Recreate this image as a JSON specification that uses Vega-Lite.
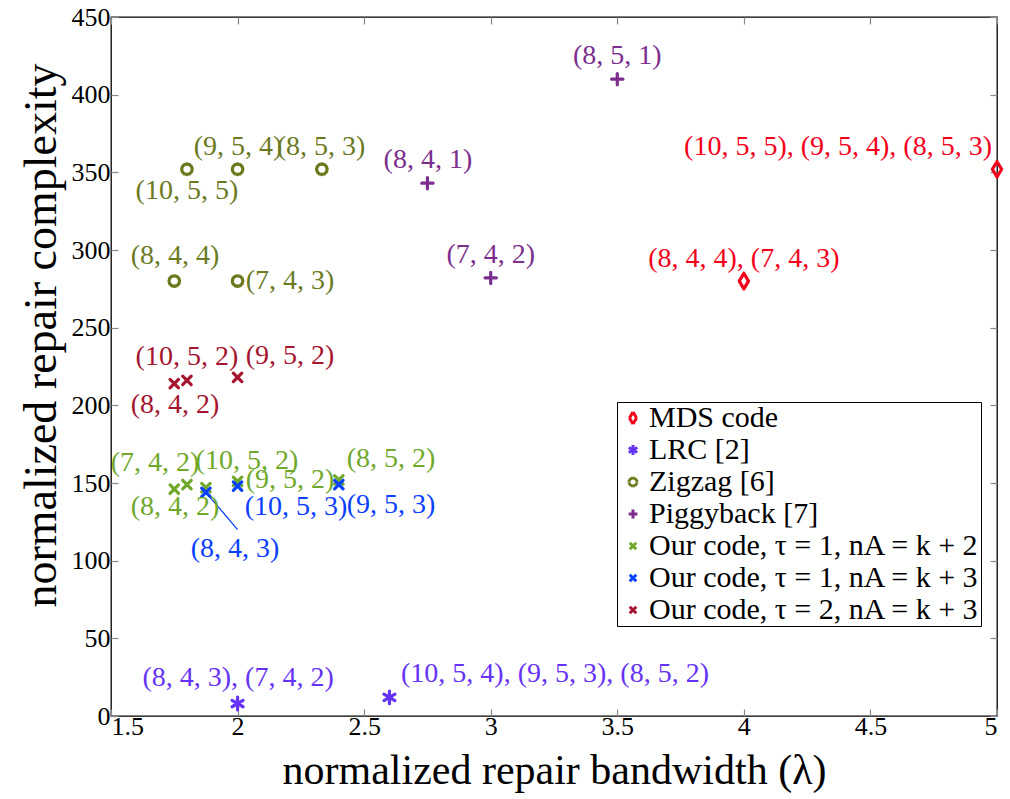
{
  "$schema": "https://vega.github.io/schema/vega-lite/v6.json",
  "autosize": {"type": "none"},
  "width": 886,
  "height": 699,
  "padding": {"left": 111, "top": 17, "right": 13, "bottom": 83},
  "background": "white",
  "config": {
    "font": "Liberation Serif",
    "view": {"stroke": "black", "strokeWidth": 1.3},
    "axis": {
      "grid": false,
      "domain": false,
      "tickColor": "#888888",
      "tickSize": -7,
      "tickWidth": 1.2,
      "labelColor": "black",
      "labelFont": "Liberation Serif",
      "labelFontSize": 26,
      "titleFont": "Liberation Serif",
      "titleFontWeight": "normal",
      "titleColor": "black"
    }
  },
  "datasets": {
    "pts": [
      {"series": "MDS code", "x": 5, "y": 352},
      {"series": "MDS code", "x": 4, "y": 280},
      {"series": "LRC [2]", "x": 2, "y": 8},
      {"series": "LRC [2]", "x": 2.6, "y": 12},
      {"series": "Zigzag [6]", "x": 1.8, "y": 352},
      {"series": "Zigzag [6]", "x": 2, "y": 352},
      {"series": "Zigzag [6]", "x": 2.333, "y": 352},
      {"series": "Zigzag [6]", "x": 1.75, "y": 280},
      {"series": "Zigzag [6]", "x": 2, "y": 280},
      {"series": "Piggyback [7]", "x": 3.5, "y": 410},
      {"series": "Piggyback [7]", "x": 2.75, "y": 343},
      {"series": "Piggyback [7]", "x": 3, "y": 282},
      {"series": "Our code, τ = 1, nA = k + 2", "x": 1.75, "y": 146},
      {"series": "Our code, τ = 1, nA = k + 2", "x": 1.8, "y": 149},
      {"series": "Our code, τ = 1, nA = k + 2", "x": 1.875, "y": 147},
      {"series": "Our code, τ = 1, nA = k + 2", "x": 2, "y": 151},
      {"series": "Our code, τ = 1, nA = k + 2", "x": 2.4, "y": 152},
      {"series": "Our code, τ = 1, nA = k + 3", "x": 1.875, "y": 144},
      {"series": "Our code, τ = 1, nA = k + 3", "x": 2, "y": 148},
      {"series": "Our code, τ = 1, nA = k + 3", "x": 2.4, "y": 149},
      {"series": "Our code, τ = 2, nA = k + 3", "x": 1.75, "y": 214},
      {"series": "Our code, τ = 2, nA = k + 3", "x": 1.8, "y": 216},
      {"series": "Our code, τ = 2, nA = k + 3", "x": 2, "y": 218}
    ],
    "labels": [
      {"series": "Piggyback [7]", "label": "(8, 5, 1)", "x": 3.5, "y": 425},
      {"series": "Piggyback [7]", "label": "(8, 4, 1)", "x": 2.752, "y": 358},
      {"series": "Piggyback [7]", "label": "(7, 4, 2)", "x": 3.0, "y": 297},
      {"series": "MDS code", "label": "(10, 5, 5), (9, 5, 4), (8, 5, 3)", "x": 4.372, "y": 366},
      {"series": "MDS code", "label": "(8, 4, 4), (7, 4, 3)", "x": 4.0, "y": 294},
      {"series": "Zigzag [6]", "label": "(9, 5, 4)", "x": 2.002, "y": 366},
      {"series": "Zigzag [6]", "label": "(8, 5, 3)", "x": 2.33, "y": 366},
      {"series": "Zigzag [6]", "label": "(10, 5, 5)", "x": 1.8, "y": 338},
      {"series": "Zigzag [6]", "label": "(8, 4, 4)", "x": 1.753, "y": 296},
      {"series": "Zigzag [6]", "label": "(7, 4, 3)", "x": 2.207, "y": 280},
      {"series": "Our code, τ = 2, nA = k + 3", "label": "(10, 5, 2)", "x": 1.8, "y": 231},
      {"series": "Our code, τ = 2, nA = k + 3", "label": "(9, 5, 2)", "x": 2.207, "y": 232},
      {"series": "Our code, τ = 2, nA = k + 3", "label": "(8, 4, 2)", "x": 1.753, "y": 200},
      {"series": "Our code, τ = 1, nA = k + 2", "label": "(7, 4, 2)", "x": 1.674, "y": 163},
      {"series": "Our code, τ = 1, nA = k + 2", "label": "(10, 5, 2)", "x": 2.037, "y": 164},
      {"series": "Our code, τ = 1, nA = k + 2", "label": "(8, 5, 2)", "x": 2.606, "y": 165.5},
      {"series": "Our code, τ = 1, nA = k + 2", "label": "(9, 5, 2)", "x": 2.207, "y": 152},
      {"series": "Our code, τ = 1, nA = k + 2", "label": "(8, 4, 2)", "x": 1.753, "y": 134.6},
      {"series": "Our code, τ = 1, nA = k + 3", "label": "(10, 5, 3)", "x": 2.231, "y": 134.6},
      {"series": "Our code, τ = 1, nA = k + 3", "label": "(9, 5, 3)", "x": 2.606, "y": 136},
      {"series": "Our code, τ = 1, nA = k + 3", "label": "(8, 4, 3)", "x": 1.99, "y": 107.5},
      {"series": "LRC [2]", "label": "(8, 4, 3), (7, 4, 2)", "x": 2.002, "y": 24.5},
      {"series": "LRC [2]", "label": "(10, 5, 4), (9, 5, 3), (8, 5, 2)", "x": 3.254, "y": 27}
    ],
    "connector": [
      {"x": 1.875, "y": 144, "x2": 2.0, "y2": 120}
    ]
  },
  "resolve": {"axis": {"x": "independent", "y": "independent"}},
  "layer": [
    {
      "data": {"name": "connector"},
      "mark": {"type": "rule", "color": "#0a40ff", "strokeWidth": 1.3},
      "encoding": {
        "x": {"field": "x", "type": "quantitative", "scale": {"domain": [1.5, 5], "nice": false, "zero": false},
          "axis": {"orient": "top", "labels": false, "title": null, "values": [1.5, 2, 2.5, 3, 3.5, 4, 4.5, 5]}},
        "y": {"field": "y", "type": "quantitative", "scale": {"domain": [0, 450], "nice": false},
          "axis": {"orient": "right", "labels": false, "title": null, "values": [0, 50, 100, 150, 200, 250, 300, 350, 400, 450]}},
        "x2": {"field": "x2"},
        "y2": {"field": "y2"}
      }
    },
    {
      "data": {"name": "pts"},
      "mark": {"type": "point", "filled": false, "strokeWidth": 3.2, "strokeCap": "round", "strokeJoin": "round", "size": 200, "opacity": 1},
      "encoding": {
        "x": {"field": "x", "type": "quantitative", "scale": {"domain": [1.5, 5], "nice": false, "zero": false},
          "axis": {"orient": "bottom", "title": "normalized repair bandwidth (λ)", "titleFontSize": 42, "values": [1.5, 2, 2.5, 3, 3.5, 4, 4.5, 5], "format": ".1~f", "labelPadding": 4, "titlePadding": 11}},
        "y": {"field": "y", "type": "quantitative", "scale": {"domain": [0, 450], "nice": false},
          "axis": {"orient": "left", "title": "normalized repair complexity", "titleFontSize": 46, "titleY": 318, "values": [0, 50, 100, 150, 200, 250, 300, 350, 400, 450], "labelPadding": 8, "titlePadding": 6}},
        "stroke": {
          "field": "series", "type": "nominal",
          "scale": {
            "domain": ["MDS code", "LRC [2]", "Zigzag [6]", "Piggyback [7]", "Our code, τ = 1, nA = k + 2", "Our code, τ = 1, nA = k + 3", "Our code, τ = 2, nA = k + 3"],
            "range": ["#f5001a", "#6633f5", "#6b7a1f", "#7b2e8e", "#6fa82a", "#0a40ff", "#a51530"]
          },
          "legend": {
            "orient": "none", "legendX": 506, "legendY": 385, "title": null,
            "strokeColor": "black", "fillColor": "white", "padding": 1,
            "labelFont": "Liberation Serif", "labelFontSize": 30, "labelColor": "black",
            "symbolStrokeWidth": 3, "symbolSize": 120, "rowPadding": 2, "labelOffset": 1, "labelLimit": 500,
            "encode": {"symbols": {"update": {"strokeCap": {"value": "round"}, "strokeJoin": {"value": "round"}}}}
          }
        },
        "shape": {
          "field": "series", "type": "nominal",
          "scale": {
            "domain": ["MDS code", "LRC [2]", "Zigzag [6]", "Piggyback [7]", "Our code, τ = 1, nA = k + 2", "Our code, τ = 1, nA = k + 3", "Our code, τ = 2, nA = k + 3"],
            "range": [
              "M0,-1.1L0.65,0M0.65,0L0,1.1M0,1.1L-0.65,0M-0.65,0L0,-1.1",
              "M0,-0.9L0,0.9M-0.78,-0.45L0.78,0.45M-0.78,0.45L0.78,-0.45",
              "M0.75,0L0.65,0.375M0.65,0.375L0.375,0.65M0.375,0.65L0,0.75M0,0.75L-0.375,0.65M-0.375,0.65L-0.65,0.375M-0.65,0.375L-0.75,0M-0.75,0L-0.65,-0.375M-0.65,-0.375L-0.375,-0.65M-0.375,-0.65L0,-0.75M0,-0.75L0.375,-0.65M0.375,-0.65L0.65,-0.375M0.65,-0.375L0.75,0",
              "M-0.8,0L0.8,0M0,-0.8L0,0.8",
              "M-0.6,-0.6L0.6,0.6M-0.6,0.6L0.6,-0.6",
              "M-0.6,-0.6L0.6,0.6M-0.6,0.6L0.6,-0.6",
              "M-0.6,-0.6L0.6,0.6M-0.6,0.6L0.6,-0.6"
            ]
          }
        }
      }
    },
    {
      "data": {"name": "labels"},
      "mark": {"type": "text", "font": "Liberation Serif", "fontSize": 28, "align": "center", "baseline": "middle"},
      "encoding": {
        "x": {"field": "x", "type": "quantitative", "axis": null},
        "y": {"field": "y", "type": "quantitative", "axis": null},
        "text": {"field": "label"},
        "fill": {
          "field": "series", "type": "nominal", "legend": null,
          "scale": {
            "domain": ["MDS code", "LRC [2]", "Zigzag [6]", "Piggyback [7]", "Our code, τ = 1, nA = k + 2", "Our code, τ = 1, nA = k + 3", "Our code, τ = 2, nA = k + 3"],
            "range": ["#f5001a", "#6633f5", "#6b7a1f", "#7b2e8e", "#6fa82a", "#0a40ff", "#a51530"]
          }
        }
      }
    }
  ]
}
